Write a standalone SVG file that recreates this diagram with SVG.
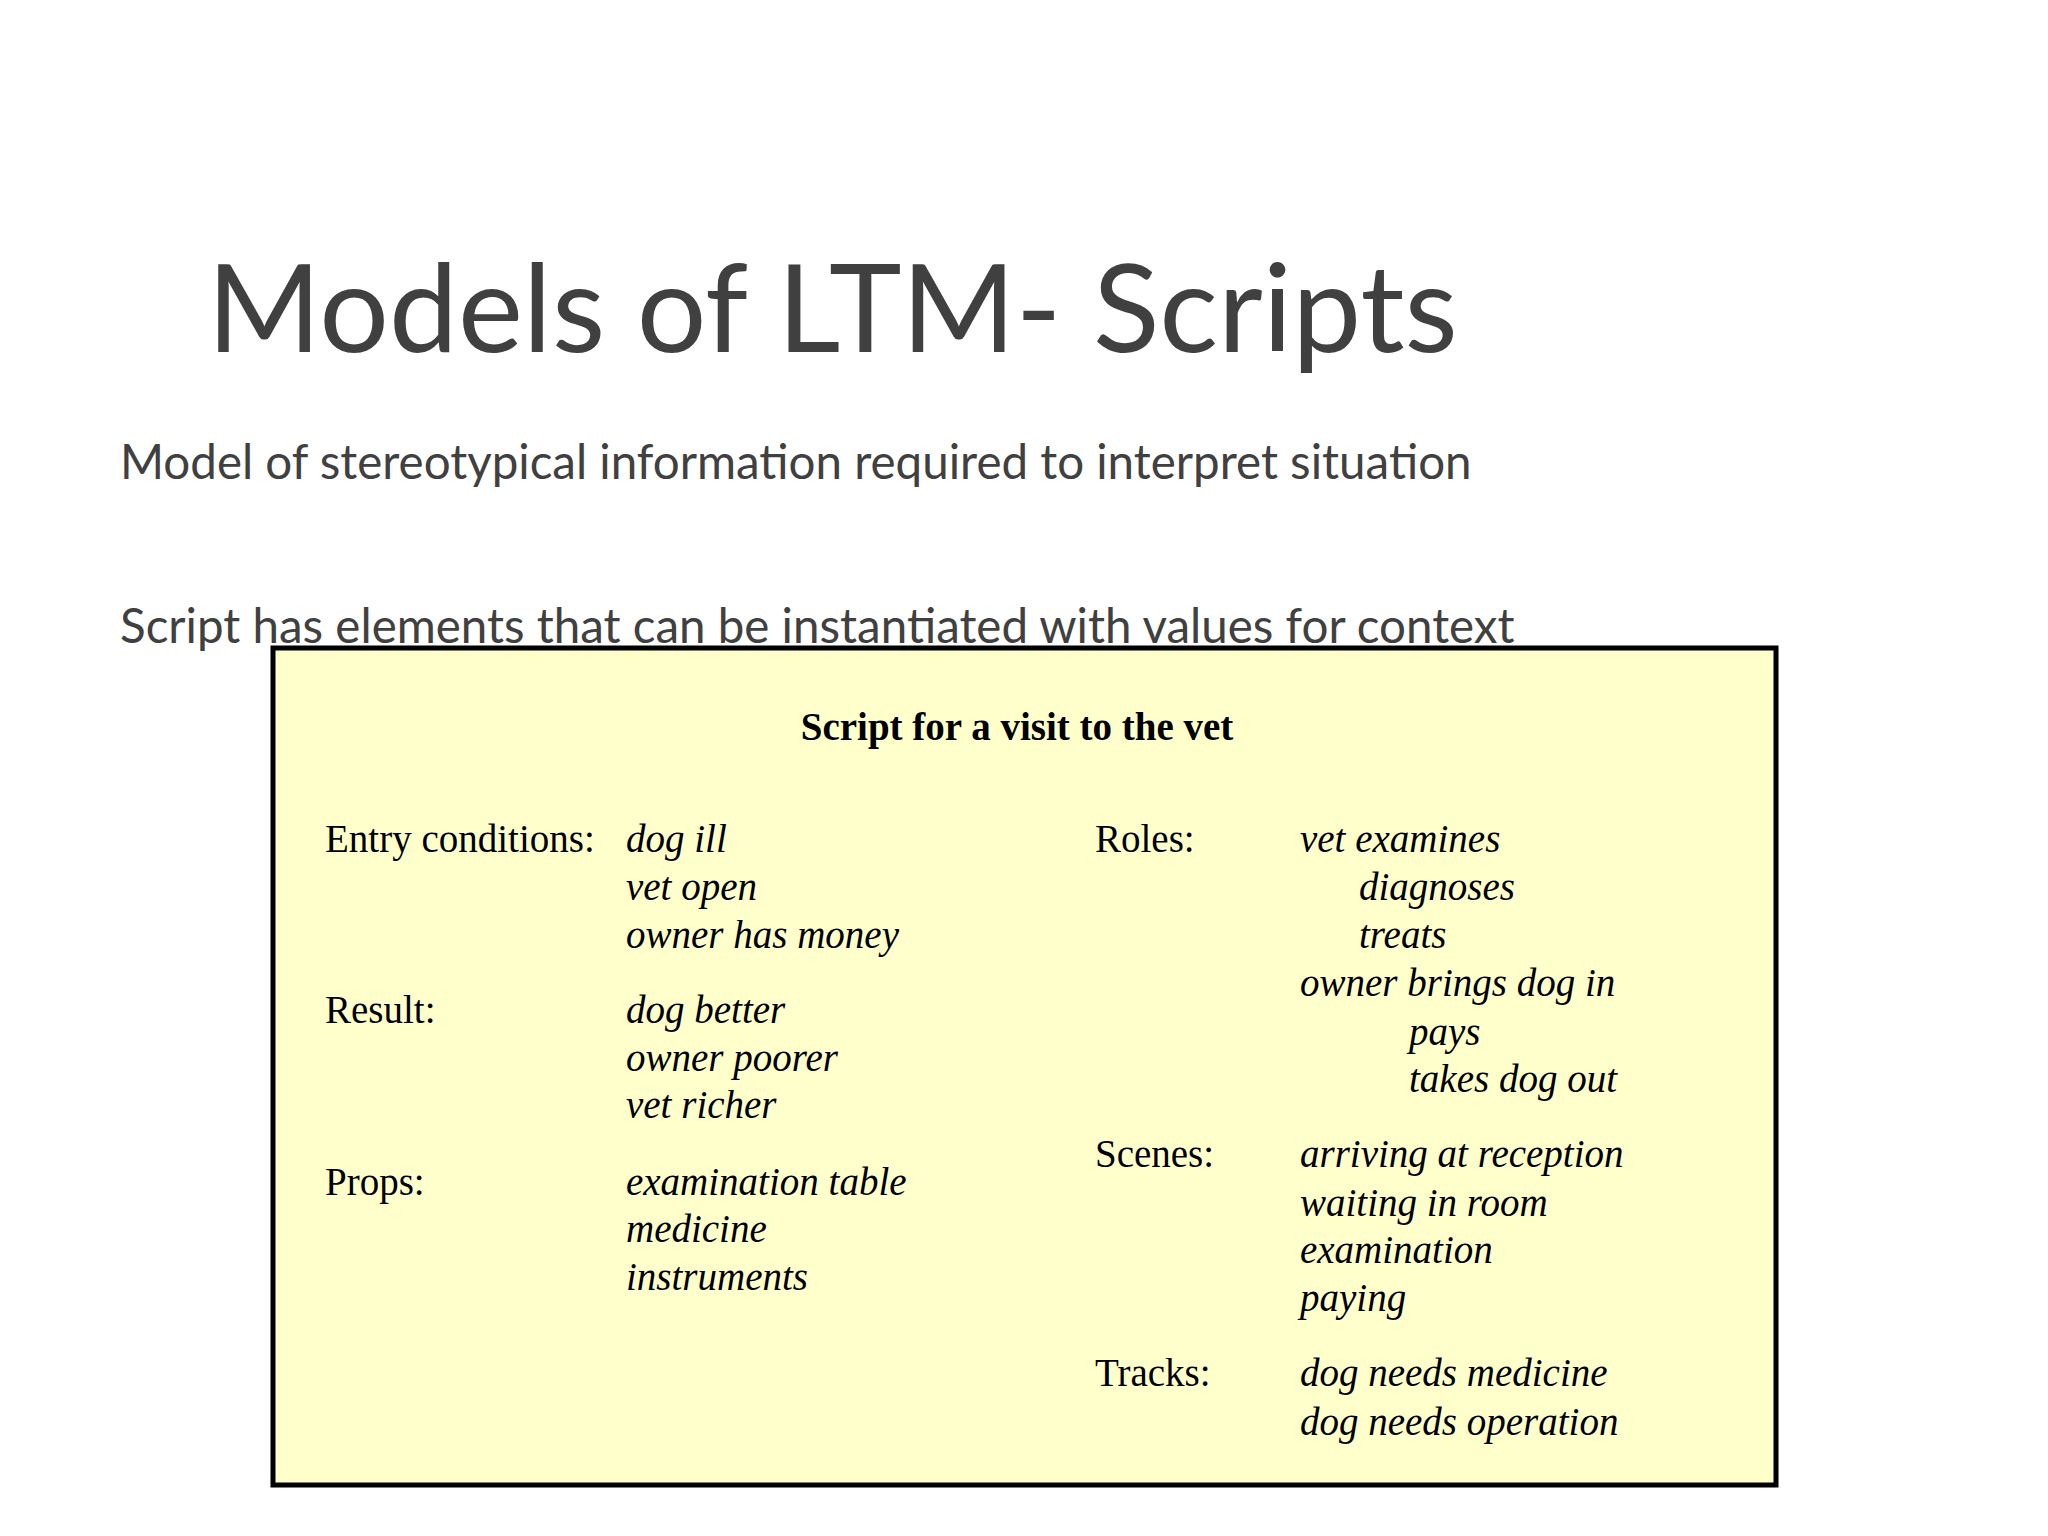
<svg xmlns="http://www.w3.org/2000/svg" width="2048" height="1536" viewBox="0 0 2048 1536">
<style>
.h{font-family:Lato,"Open Sans",sans-serif;fill:#404040}
.t{font-family:"Liberation Serif",serif;font-size:39px;fill:#000}
.i{font-style:italic}
</style>
<rect width="2048" height="1536" fill="#fff"/>
<text class="h" x="207" y="352" font-size="123">Models of LTM- Scripts</text>
<text class="h" x="120" y="479" font-size="47.5">Model of stereotypical information required to interpret situation</text>
<text class="h" x="120" y="643" font-size="47.5">Script has elements that can be instantiated with values for context</text>
<g id="box">
<rect x="273" y="648" width="1503" height="837" fill="#FFFFCC" stroke="#000" stroke-width="5"/>
<text class="t" x="1017" y="740" font-size="57" font-weight="bold" text-anchor="middle">Script for a visit to the vet</text>
<text class="t" x="325" y="852">Entry conditions:</text>
<text class="t i" x="626" y="852">dog ill</text>
<text class="t i" x="626" y="900">vet open</text>
<text class="t i" x="626" y="948">owner has money</text>
<text class="t" x="325" y="1023">Result:</text>
<text class="t i" x="626" y="1023">dog better</text>
<text class="t i" x="626" y="1071">owner poorer</text>
<text class="t i" x="626" y="1118">vet richer</text>
<text class="t" x="325" y="1195">Props:</text>
<text class="t i" x="626" y="1195">examination table</text>
<text class="t i" x="626" y="1242">medicine</text>
<text class="t i" x="626" y="1290">instruments</text>
<text class="t" x="1095" y="852">Roles:</text>
<text class="t i" x="1300" y="852">vet examines</text>
<text class="t i" x="1359" y="900">diagnoses</text>
<text class="t i" x="1359" y="948">treats</text>
<text class="t i" x="1300" y="996">owner brings dog in</text>
<text class="t i" x="1409" y="1045">pays</text>
<text class="t i" x="1409" y="1092">takes dog out</text>
<text class="t" x="1095" y="1167">Scenes:</text>
<text class="t i" x="1300" y="1167">arriving at reception</text>
<text class="t i" x="1300" y="1216">waiting in room</text>
<text class="t i" x="1300" y="1263">examination</text>
<text class="t i" x="1300" y="1311">paying</text>
<text class="t" x="1095" y="1386">Tracks:</text>
<text class="t i" x="1300" y="1386">dog needs medicine</text>
<text class="t i" x="1300" y="1435">dog needs operation</text>
</g>
<g id="connectors"/>
</svg>
